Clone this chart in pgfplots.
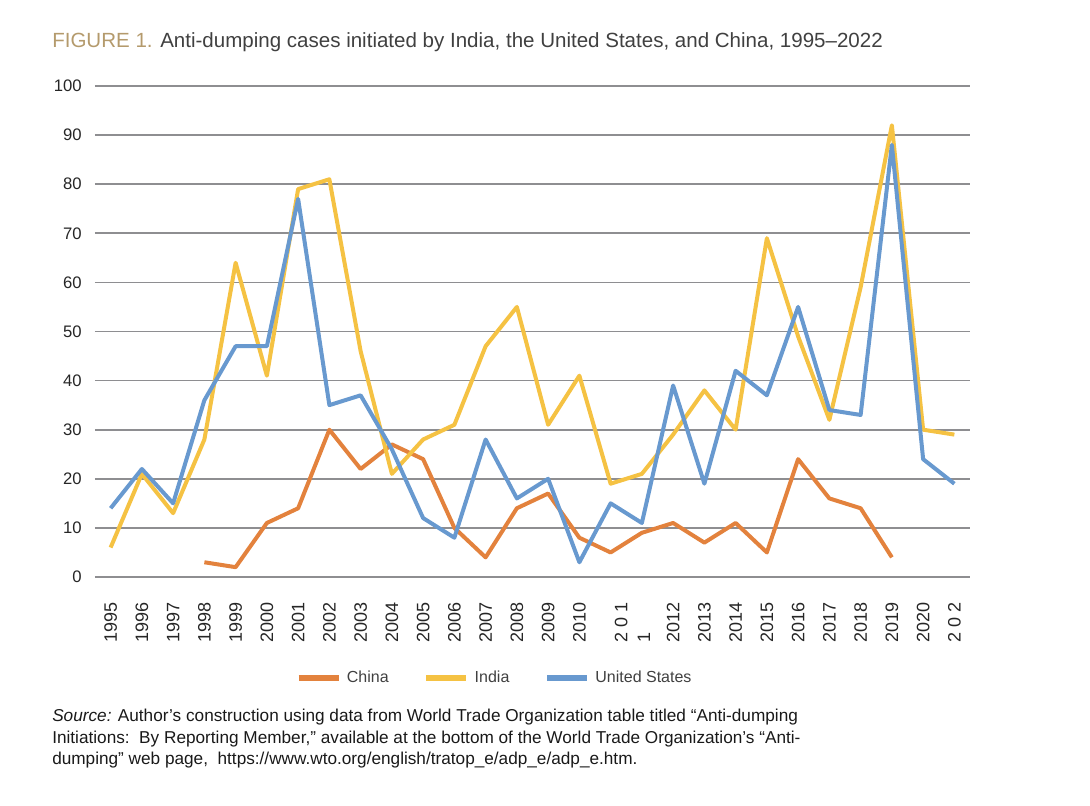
\documentclass[border=0pt]{standalone}
\usepackage{fontspec}
\setmainfont{Liberation Sans}
\usepackage{pgfplots}
\pgfplotsset{compat=1.18}
\usepackage{pgfplotstable}
\definecolor{cChina}{HTML}{E3823D}
\definecolor{cIndia}{HTML}{F5C243}
\definecolor{cUS}{HTML}{6899CF}
\definecolor{cGrid}{HTML}{8E8E91}
\definecolor{cTan}{HTML}{B49A6C}
\definecolor{cText}{HTML}{404040}

\pgfplotstableread{
i  China India US
0  nan   6   14
1  nan   21  22
2  nan   13  15
3  3     28  36
4  2     64  47
5  11    41  47
6  14    79  77
7  30    81  35
8  22    46  37
9  27    21  26
10 24    28  12
11 10    31  8
12 4     47  28
13 14    55  16
14 17    31  20
15 8     41  3
16 5     19  15
17 9     21  11
18 11    29  39
19 7     38  19
20 11    30  42
21 5     69  37
22 24    49  55
23 16    32  34
24 14    59  33
25 4     92  88
26 nan   30  24
27 nan   29  19
}\datatable

\begin{document}
\begin{tikzpicture}
\path (0pt,0pt) rectangle (817.5pt,604.5pt);
\node[anchor=base west, inner sep=0pt, font=\fontsize{15.4}{18}\selectfont, text=cText] at (39pt,569pt)
  {{\color{cTan}FIGURE 1.} Anti-dumping cases initiated by India, the United States, and China, 1995--2022};
\begin{axis}[
  at={(71.25pt,171.75pt)}, anchor=south west,
  scale only axis, width=656.25pt, height=368.25pt,
  xmin=-0.5, xmax=27.5, ymin=0, ymax=100,
  ytick={0,10,...,100},
  xtick={0,1,2,3,4,5,6,7,8,9,10,11,12,13,14,15,16.7,18,19,20,21,22,23,24,25,26,27},
  xticklabels={1995,1996,1997,1998,1999,2000,2001,2002,2003,2004,2005,2006,2007,2008,2009,2010,{2 0 1\\1},2012,2013,2014,2015,2016,2017,2018,2019,2020,{2 0 2}},
  major tick length=0pt,
  axis line style={draw=none},
  ymajorgrids, grid style={cGrid, line width=1.3pt},
  /pgf/number format/assume math mode=true,
  yticklabel style={font=\fontsize{12.5}{14}\selectfont, text=black!85, anchor=east},
  yticklabel shift=6.5pt,
  xticklabel style={font=\fontsize{13.5}{17}\selectfont, text=black!85, rotate=90, anchor=east, align=left},
  xticklabel shift=15.5pt,
  unbounded coords=jump,
  legend columns=3,
  legend style={at={(0.457,-0.2057)}, anchor=center, draw=none, fill=none,
    font=\fontsize{12}{14}\selectfont, text=cText,
    /tikz/every even column/.append style={column sep=24pt},
    /tikz/every odd column/.append style={column sep=2pt}},
  legend image code/.code={\draw[#1, line width=4.5pt] (0pt,0pt) -- (30pt,0pt);},
  every axis plot/.append style={line width=3pt, line join=round, no markers},
]
\addplot[cChina] table[x=i, y=China] {\datatable};
\addlegendentry{China}
\addplot[cIndia] table[x=i, y=India] {\datatable};
\addlegendentry{India}
\addplot[cUS] table[x=i, y=US] {\datatable};
\addlegendentry{United States}
\end{axis}
\begin{scope}[every node/.style={anchor=base west, inner sep=0pt, font=\fontsize{12.9}{15}\selectfont, text=black!90}]
\node at (39pt,63pt) {\textit{Source:} Author’s construction using data from World Trade Organization table titled “Anti-dumping};
\node at (39pt,47pt) {Initiations:\ \ By Reporting Member,” available at the bottom of the World Trade Organization’s “Anti-};
\node at (39pt,31pt) {dumping” web page,\ \ https://www.wto.org/english/tratop\_e/adp\_e/adp\_e.htm.};
\end{scope}
\end{tikzpicture}
\end{document}
